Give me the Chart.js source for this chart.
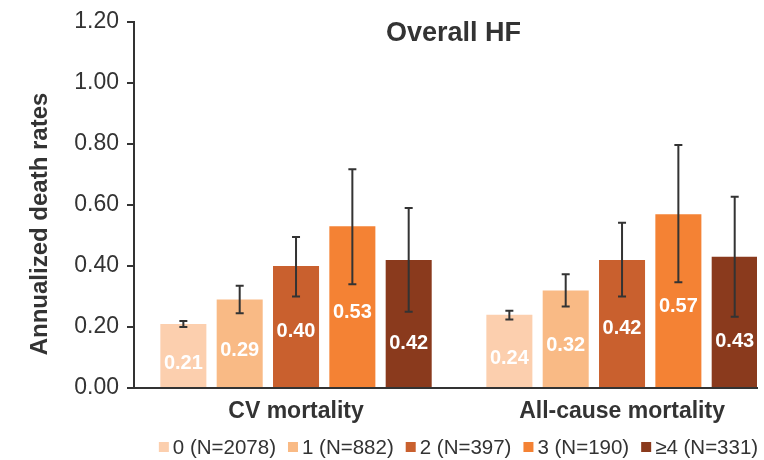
<!DOCTYPE html>
<html>
<head>
<meta charset="utf-8">
<script src="https://cdn.jsdelivr.net/npm/chart.js@4/dist/chart.umd.min.js"></script>
<style>
  html, body { margin: 0; padding: 0; background: #fff; }
  #wrap { width: 764px; height: 460px; }
</style>
</head>
<body>
<div id="wrap"><canvas id="c" width="764" height="460"></canvas></div>
<script>
// categories on the x axis
var categories = ['CV mortality', 'All-cause mortality'];

// series (number of comorbidities)
var seriesLabels = ['0 (N=2078)', '1 (N=882)', '2 (N=397)', '3 (N=190)', '\u22654 (N=331)'];
var seriesColors = ['#FCCFAE', '#F9BA85', '#C9602E', '#F48234', '#8A3A1D'];

// annualized death rates, one entry per series
var cvRates  = [0.21, 0.29, 0.40, 0.53, 0.42];
var allRates = [0.24, 0.32, 0.42, 0.57, 0.43];

// 95% CI bounds
var cvLow   = [0.20, 0.245, 0.30, 0.34, 0.25];
var cvHigh  = [0.22, 0.335, 0.495, 0.717, 0.59];
var allLow  = [0.225, 0.267, 0.30, 0.347, 0.234];
var allHigh = [0.253, 0.373, 0.542, 0.797, 0.627];

var yTicks = [0, 0.2, 0.4, 0.6, 0.8, 1.0, 1.2];

var FONT = "'Liberation Sans', Arial, Helvetica, sans-serif";
var INK = '#333333';

var datasets = seriesLabels.map(function(lab, i) {
  return {
    label: lab,
    data: [{ x: 0, y: cvRates[i] }, { x: 1, y: allRates[i] }],
    lows: [cvLow[i], allLow[i]],
    highs: [cvHigh[i], allHigh[i]],
    backgroundColor: seriesColors[i],
    borderWidth: 0,
    categoryPercentage: 0.864,
    barPercentage: 0.817
  };
});

// small vertical nudges so the white labels sit clear of the whiskers
var labelNudge = [8, 7, 5, 6, 20];

var errorBars = {
  id: 'errorBars',
  afterDatasetsDraw: function(chart) {
    var ctx = chart.ctx, ys = chart.scales.y;
    ctx.save();
    ctx.strokeStyle = INK;
    ctx.lineWidth = 2;
    chart.data.datasets.forEach(function(ds, di) {
      var meta = chart.getDatasetMeta(di);
      meta.data.forEach(function(bar, j) {
        var yl = ys.getPixelForValue(ds.lows[j]);
        var yh = ys.getPixelForValue(ds.highs[j]);
        ctx.beginPath();
        ctx.moveTo(bar.x, yl); ctx.lineTo(bar.x, yh);
        ctx.moveTo(bar.x - 4, yl); ctx.lineTo(bar.x + 4, yl);
        ctx.moveTo(bar.x - 4, yh); ctx.lineTo(bar.x + 4, yh);
        ctx.stroke();
      });
    });
    ctx.restore();
  }
};

var valueLabels = {
  id: 'valueLabels',
  afterDatasetsDraw: function(chart) {
    var ctx = chart.ctx;
    ctx.save();
    ctx.fillStyle = '#ffffff';
    ctx.font = 'bold 20px ' + FONT;
    ctx.textAlign = 'center';
    ctx.textBaseline = 'middle';
    chart.data.datasets.forEach(function(ds, di) {
      var meta = chart.getDatasetMeta(di);
      meta.data.forEach(function(bar, j) {
        var y = (bar.y + bar.base) / 2 + labelNudge[di];
        ctx.fillText(ds.data[j].y.toFixed(2), bar.x, y);
      });
    });
    ctx.restore();
  }
};

// titles and the legend row drawn around the chart area
var decorations = {
  id: 'decorations',
  afterDraw: function(chart) {
    var ctx = chart.ctx, a = chart.chartArea;
    ctx.save();
    ctx.fillStyle = INK;
    ctx.textAlign = 'center';
    ctx.textBaseline = 'middle';
    ctx.font = 'bold 27px ' + FONT;
    ctx.fillText('Overall HF', (a.left + a.right) / 2 + 8, a.top + 12);

    ctx.save();
    ctx.translate(40, (a.top + a.bottom) / 2 + 19);
    ctx.rotate(-Math.PI / 2);
    ctx.font = 'bold 24px ' + FONT;
    ctx.fillText('Annualized death rates', 0, 0);
    ctx.restore();

    // legend
    var box = 10, gapText = 4, gapItem = 12;
    ctx.font = '20.5px ' + FONT;
    var widths = seriesLabels.map(function(t) { return ctx.measureText(t).width; });
    var total = widths.reduce(function(s, w) { return s + w + box + gapText; }, 0) + gapItem * (seriesLabels.length - 1);
    var x = (a.left + a.right) / 2 + 13 - total / 2;
    var y = chart.height - 13;
    ctx.textAlign = 'left';
    seriesLabels.forEach(function(t, i) {
      ctx.fillStyle = seriesColors[i];
      ctx.fillRect(x, y - box / 2, box, box);
      ctx.fillStyle = INK;
      ctx.fillText(t, x + box + gapText, y + 1);
      x += box + gapText + widths[i] + gapItem;
    });
    ctx.restore();
  }
};

new Chart(document.getElementById('c'), {
  type: 'bar',
  data: { datasets: datasets },
  plugins: [errorBars, valueLabels, decorations],
  options: {
    responsive: false,
    animation: false,
    layout: { padding: { top: 22, right: 7, left: 0, bottom: 0 } },
    plugins: {
      tooltip: { enabled: false },
      legend: { display: false }
    },
    scales: {
      x: {
        type: 'linear',
        offset: false,
        min: -0.497,
        max: 1.414,
        afterBuildTicks: function(s) { s.ticks = [{ value: 0 }, { value: 1 }]; },
        afterFit: function(s) { s.height = 72; },
        ticks: {
          autoSkip: false,
          maxRotation: 0,
          color: INK,
          padding: 10,
          font: { family: FONT, size: 23, weight: 'bold' },
          callback: function(v) { return categories[v]; }
        },
        grid: { drawOnChartArea: false, drawTicks: false },
        border: { color: INK, width: 2 }
      },
      y: {
        min: 0,
        max: 1.2,
        afterBuildTicks: function(s) { s.ticks = yTicks.map(function(v) { return { value: v }; }); },
        afterFit: function(s) { s.width = 134; },
        ticks: {
          color: INK,
          padding: 8,
          font: { family: FONT, size: 23 },
          callback: function(v) { return v.toFixed(2); }
        },
        grid: { drawOnChartArea: false, drawTicks: true, tickLength: 7, color: INK, lineWidth: 2 },
        border: { color: INK, width: 2 }
      }
    }
  }
});
</script>
</body>
</html>
